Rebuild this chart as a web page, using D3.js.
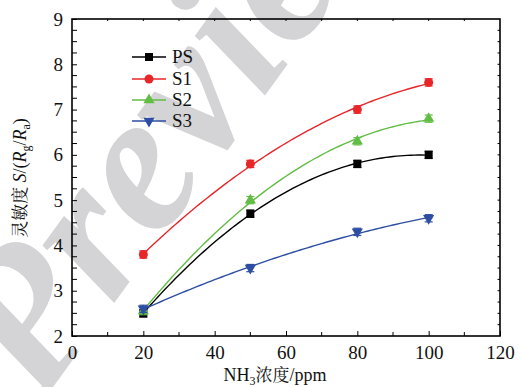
<!DOCTYPE html>
<html>
<head>
<meta charset="utf-8">
<script src="https://cdn.jsdelivr.net/npm/d3@7"></script>
<style>
  body { margin: 0; background: #fff; }
</style>
</head>
<body>
<svg id="chart" width="520" height="387"></svg>
<script>
// concentration of NH3 (ppm)
const conc = [20, 50, 80, 100];
// sensitivity
const psVals = [2.5, 4.7, 5.8, 6.0];
const s1Vals = [3.8, 5.8, 7.0, 7.6];
const s2Vals = [2.55, 5.0, 6.3, 6.8];
const s3Vals = [2.6, 3.5, 4.3, 4.6];
const errVals = [0.08, 0.08, 0.08, 0.08];
const seriesNames = ["PS", "S1", "S2", "S3"];
const seriesColors = ["#000000", "#e8262a", "#62bd45", "#2d4ea2"];
const seriesShapes = ["square", "circle", "triangle", "triangleDown"];
const xTicks = [0, 20, 40, 60, 80, 100, 120];
const yTicks = [2, 3, 4, 5, 6, 7, 8, 9];

const SERIF = "'Liberation Serif', serif";
const CJK = "'Noto Serif CJK SC', 'Noto Sans CJK SC', serif";

const svg = d3.select("#chart");
const width = 520, height = 387;
const margin = { left: 72, right: 20, top: 19, bottom: 51 };

const x = d3.scaleLinear().domain([0, 120]).range([margin.left, width - margin.right]);
const y = d3.scaleLinear().domain([2, 9]).range([height - margin.bottom, margin.top]);

// watermark behind everything
svg.append("text")
  .attr("transform", "translate(40,405) rotate(-54)")
  .style("font-family", SERIF)
  .style("font-style", "italic")
  .style("font-weight", "bold")
  .style("font-size", "200px")
  .attr("fill", "#d4d4d6")
  .text("Preview");

// least squares quadratic, for the fitted curves
function quadFit(xs, ys) {
  let s = [0, 0, 0, 0, 0], t = [0, 0, 0];
  xs.forEach((xv, i) => {
    for (let k = 0; k < 5; k++) s[k] += Math.pow(xv, k);
    for (let k = 0; k < 3; k++) t[k] += ys[i] * Math.pow(xv, k);
  });
  const A = [[s[0], s[1], s[2], t[0]], [s[1], s[2], s[3], t[1]], [s[2], s[3], s[4], t[2]]];
  for (let i = 0; i < 3; i++) {
    for (let j = i + 1; j < 3; j++) {
      const f = A[j][i] / A[i][i];
      for (let k = i; k < 4; k++) A[j][k] -= f * A[i][k];
    }
  }
  const c = [0, 0, 0];
  for (let i = 2; i >= 0; i--) {
    let v = A[i][3];
    for (let k = i + 1; k < 3; k++) v -= A[i][k] * c[k];
    c[i] = v / A[i][i];
  }
  return xv => c[0] + c[1] * xv + c[2] * xv * xv;
}

// axes
const bottomAxis = d3.axisBottom(x).tickValues(xTicks).tickSize(-5).tickPadding(10).tickFormat(d3.format("d"));
const leftAxis = d3.axisLeft(y).tickValues(yTicks).tickSize(-5).tickPadding(9).tickFormat(d3.format("d"));

const gx = svg.append("g").attr("transform", `translate(0,${y(2)})`).call(bottomAxis);
const gy = svg.append("g").attr("transform", `translate(${x(0)},0)`).call(leftAxis);
[gx, gy].forEach(g => {
  g.select(".domain").remove();
  g.selectAll("text").style("font-size", "19px").attr("fill", "#111").style("font-family", SERIF);
  g.selectAll("line").attr("stroke", "#000");
});

// minor ticks
const xMinor = d3.range(10, 120, 20);
const yMinor = d3.range(2.25, 9, 0.25).filter(v => Math.abs(v - Math.round(v)) > 0.01);
svg.append("g").selectAll("line").data(xMinor).join("line")
  .attr("x1", d => x(d)).attr("x2", d => x(d))
  .attr("y1", y(2)).attr("y2", y(2) - 4).attr("stroke", "#000");
svg.append("g").selectAll("line").data(yMinor).join("line")
  .attr("x1", x(0)).attr("x2", x(0) + 5)
  .attr("y1", d => y(d)).attr("y2", d => y(d)).attr("stroke", "#000");
// top and right ticks
svg.append("g").selectAll("line").data(d3.range(10, 120, 10)).join("line")
  .attr("x1", d => x(d)).attr("x2", d => x(d))
  .attr("y1", y(9)).attr("y2", y(9) + 2).attr("stroke", "#000");
svg.append("g").selectAll("line").data(d3.range(2.25, 9, 0.25)).join("line")
  .attr("x1", x(120)).attr("x2", x(120) - 2.5)
  .attr("y1", d => y(d)).attr("y2", d => y(d)).attr("stroke", "#000");

// frame
svg.append("rect")
  .attr("x", x(0)).attr("y", y(9))
  .attr("width", x(120) - x(0)).attr("height", y(2) - y(9))
  .attr("fill", "none").attr("stroke", "#000").attr("stroke-width", 1.6);

// series
const allVals = [psVals, s1Vals, s2Vals, s3Vals];
const line = d3.line().x(d => x(d[0])).y(d => y(d[1]));

function drawMarker(g, shape, color, size) {
  if (shape === "square") {
    g.append("rect").attr("x", -size / 2).attr("y", -size / 2).attr("width", size).attr("height", size).attr("fill", color);
  } else if (shape === "circle") {
    g.append("circle").attr("r", size / 2 + 0.5).attr("fill", color);
  } else {
    const sym = d3.symbol().type(d3.symbolTriangle).size(size * size * 0.85);
    g.append("path").attr("d", sym()).attr("fill", color)
      .attr("transform", shape === "triangleDown" ? "rotate(180)" : null);
  }
}

allVals.forEach((vals, si) => {
  const color = seriesColors[si];
  const fit = quadFit(conc, vals);
  const pts = d3.range(20, 100.5, 1).map(v => [v, fit(v)]);
  svg.append("path").datum(pts).attr("d", line)
    .attr("fill", "none").attr("stroke", color).attr("stroke-width", 1.4);

  const g = svg.append("g");
  conc.forEach((c, i) => {
    const v = vals[i], e = errVals[i];
    g.append("line").attr("x1", x(c)).attr("x2", x(c))
      .attr("y1", y(v - e)).attr("y2", y(v + e)).attr("stroke", color).attr("stroke-width", 1.2);
    [v - e, v + e].forEach(w => {
      g.append("line").attr("x1", x(c) - 4).attr("x2", x(c) + 4)
        .attr("y1", y(w)).attr("y2", y(w)).attr("stroke", color).attr("stroke-width", 1.2);
    });
    const m = g.append("g").attr("transform", `translate(${x(c)},${y(v)})`);
    drawMarker(m, seriesShapes[si], color, 8);
  });
});

// legend
const legendY = [57, 79, 100, 121];
seriesNames.forEach((name, i) => {
  const g = svg.append("g").attr("transform", `translate(0,${legendY[i]})`);
  g.append("line").attr("x1", 132).attr("x2", 166).attr("stroke", seriesColors[i]).attr("stroke-width", 1.4);
  const m = g.append("g").attr("transform", "translate(149,0)");
  drawMarker(m, seriesShapes[i], seriesColors[i], 8);
  g.append("text").attr("x", 172).attr("y", 6).style("font-size", "19px")
    .style("font-family", SERIF).attr("fill", "#111").text(name);
});

// axis titles
const xt = svg.append("text").attr("x", 275).attr("y", 381).attr("text-anchor", "middle")
  .style("font-size", "18px").style("font-family", SERIF).attr("fill", "#111");
xt.append("tspan").text("NH");
xt.append("tspan").style("font-size", "12px").attr("dy", 4).text("3");
xt.append("tspan").attr("dy", -4).style("font-family", CJK).style("font-size", "17px").text("浓度");
xt.append("tspan").text("/ppm");

const yt = svg.append("text").attr("transform", "translate(26,178) rotate(-90)")
  .attr("text-anchor", "middle").style("font-size", "18px").style("font-family", SERIF).attr("fill", "#111");
yt.append("tspan").style("font-family", CJK).style("font-size", "17px").text("灵敏度 ");
yt.append("tspan").style("font-style", "italic").text("S");
yt.append("tspan").text("/(");
yt.append("tspan").style("font-style", "italic").text("R");
yt.append("tspan").style("font-size", "12px").attr("dy", 4).text("g");
yt.append("tspan").attr("dy", -4).text("/");
yt.append("tspan").style("font-style", "italic").text("R");
yt.append("tspan").style("font-size", "12px").attr("dy", 4).text("a");
yt.append("tspan").attr("dy", -4).text(")");
</script>
</body>
</html>
